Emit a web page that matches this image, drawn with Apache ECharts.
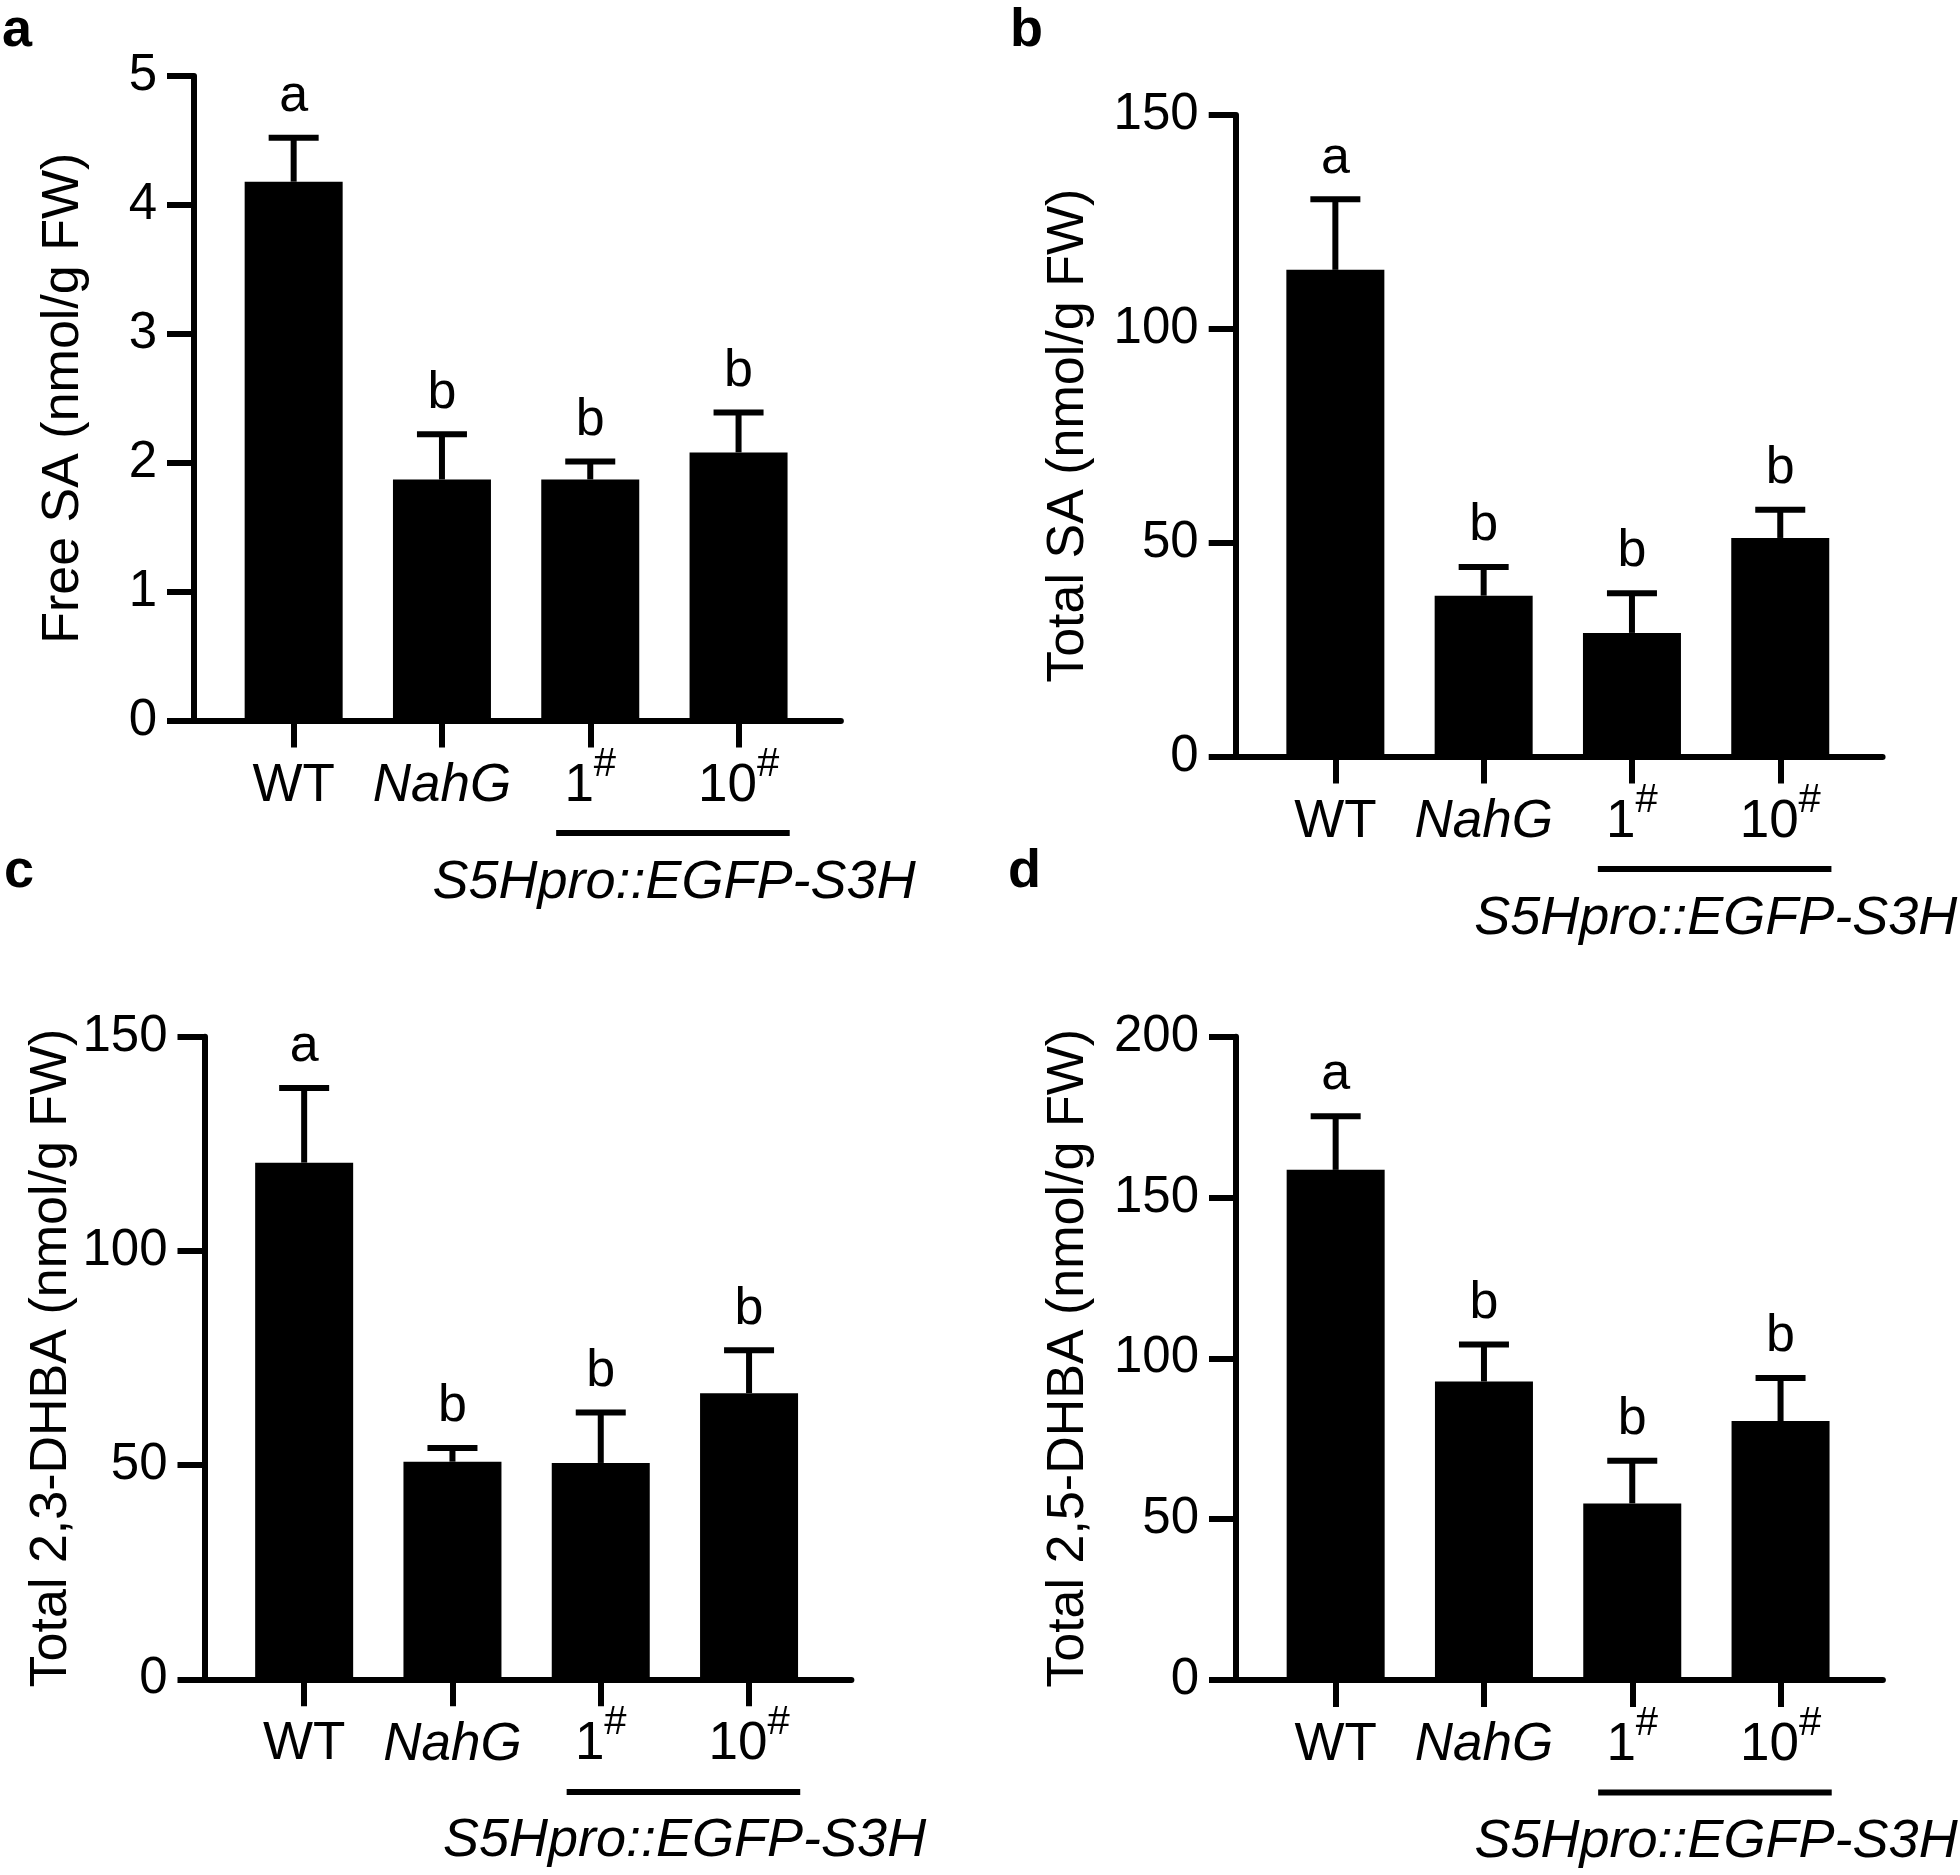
<!DOCTYPE html>
<html>
<head>
<meta charset="utf-8">
<script src="https://cdn.jsdelivr.net/npm/echarts@6/dist/echarts.min.js"></script>
<style>
html,body{margin:0;padding:0;background:#fff;}
#chart{width:1960px;height:1875px;}
</style>
</head>
<body>
<div id="chart"></div>
<script>
// ---------------- data ----------------
const categories = ['WT', 'NahG', '1#', '10#'];
const letters = ['a', 'b', 'b', 'b'];
const groupLabel = 'S5Hpro::EGFP-S3H';

const freeSA = [4.18, 1.87, 1.87, 2.08];
const freeSAErr = [0.34, 0.35, 0.14, 0.31];

const totalSA = [113.8, 37.6, 28.9, 51.1];
const totalSAErr = [16.5, 6.7, 9.3, 6.6];

const dhba23 = [120.6, 50.8, 50.5, 66.8];
const dhba23Err = [17.4, 3.2, 11.8, 10.0];

const dhba25 = [158.6, 92.8, 54.9, 80.5];
const dhba25Err = [16.7, 11.5, 13.3, 13.4];

const yTicksA = [0, 1, 2, 3, 4, 5];
const yTicksB = [0, 50, 100, 150];
const yTicksC = [0, 50, 100, 150];
const yTicksD = [0, 50, 100, 150, 200];

// ---------------- layout ----------------
const FONT = '"Liberation Sans", Arial, Helvetica, sans-serif';
const X_MIN = -0.672, X_MAX = 3.69;
const GROUP_FROM = 1.77, GROUP_TO = 3.345, GROUP_TEXT_AT = 2.565;

const panels = [
  {tag: 'a', tagX: 2, tagY: 31, title: 'Free SA (nmol/g FW)', values: freeSA, errs: freeSAErr, ticks: yTicksA,
   left: 194, top: 76, height: 644.5, nameGap: 104},
  {tag: 'b', tagX: 1010, tagY: 31, title: 'Total SA (nmol/g FW)', values: totalSA, errs: totalSAErr, ticks: yTicksB,
   left: 1235.7, top: 115, height: 641.5, nameGap: 141},
  {tag: 'c', tagX: 4, tagY: 872, title: 'Total 2,3-DHBA (nmol/g FW)', values: dhba23, errs: dhba23Err, ticks: yTicksC,
   left: 204.5, top: 1036.7, height: 642.6, nameGap: 127},
  {tag: 'd', tagX: 1008, tagY: 872, title: 'Total 2,5-DHBA (nmol/g FW)', values: dhba25, errs: dhba25Err, ticks: yTicksD,
   left: 1236, top: 1036.7, height: 643.3, nameGap: 141}
];
const PLOT_W = (X_MAX - X_MIN) * 148.3;

function catLabel(v) {
  const i = Math.round(v);
  const c = categories[i];
  if (c === undefined) return '';
  if (c === 'NahG') return '{i|' + c + '}';
  if (c.endsWith('#')) return '{n|' + c.slice(0, -1) + '}{s|#}';
  return '{n|' + c + '}';
}

function errRender(params, api) {
  const x = api.value(0), m = api.value(1), e = api.value(2);
  const base = api.coord([x, m]);
  const top = api.coord([x, m + e]);
  return {
    type: 'group',
    children: [
      {type: 'line', shape: {x1: base[0], y1: base[1], x2: top[0], y2: top[1]},
       style: {stroke: '#000', lineWidth: 6}},
      {type: 'line', shape: {x1: top[0] - 25, y1: top[1], x2: top[0] + 25, y2: top[1]},
       style: {stroke: '#000', lineWidth: 6}},
      {type: 'text', x: top[0], y: top[1] - 41,
       style: {text: letters[params.dataIndex], fill: '#000', font: '52px ' + FONT,
               align: 'center', verticalAlign: 'middle'}}
    ]
  };
}

function groupRender(params, api) {
  const p0 = api.coord([api.value(0), 0]);
  const p1 = api.coord([api.value(1), 0]);
  const pc = api.coord([api.value(2), 0]);
  return {
    type: 'group',
    children: [
      {type: 'line', shape: {x1: p0[0], y1: p0[1] + 112.6, x2: p1[0], y2: p1[1] + 112.6},
       style: {stroke: '#000', lineWidth: 6}},
      {type: 'text', x: pc[0], y: pc[1] + 162,
       style: {text: groupLabel, fill: '#000', font: 'italic 54px ' + FONT,
               align: 'center', verticalAlign: 'middle'}}
    ]
  };
}

const grid = [], xAxis = [], yAxis = [], series = [], graphic = [];
panels.forEach((p, k) => {
  grid.push({left: p.left, top: p.top, width: PLOT_W, height: p.height, containLabel: false});
  xAxis.push({
    type: 'value', gridIndex: k, min: X_MIN, max: X_MAX,
    splitLine: {show: false},
    axisLine: {show: true, onZero: false, lineStyle: {color: '#000', width: 6}},
    axisTick: {show: true, customValues: [0, 1, 2, 3], length: 27, lineStyle: {color: '#000', width: 6}},
    axisLabel: {
      show: true, customValues: [0, 1, 2, 3], margin: 24, formatter: catLabel,
      rich: {
        n: {fontSize: 53, fontFamily: FONT, color: '#000', padding: [15, 0, 0, 0], verticalAlign: 'bottom'},
        i: {fontSize: 53, fontFamily: FONT, color: '#000', fontStyle: 'italic', padding: [15, 0, 0, 0], verticalAlign: 'bottom'},
        s: {fontSize: 40, fontFamily: FONT, color: '#000', verticalAlign: 'top'}
      }
    }
  });
  const t = p.ticks;
  yAxis.push({
    type: 'value', gridIndex: k, min: t[0], max: t[t.length - 1], interval: t[1] - t[0],
    splitLine: {show: false},
    axisLine: {show: true, onZero: false, lineStyle: {color: '#000', width: 6}},
    axisTick: {show: true, length: 27, lineStyle: {color: '#000', width: 6}},
    axisLabel: {fontSize: 51, fontFamily: FONT, color: '#000', margin: 37},
    name: p.title, nameLocation: 'middle', nameGap: p.nameGap,
    nameTextStyle: {fontSize: 52, fontFamily: FONT, color: '#000'}
  });
  series.push({
    type: 'bar', xAxisIndex: k, yAxisIndex: k, barWidth: 98,
    data: p.values.map((v, i) => [i, v]),
    itemStyle: {color: '#000'}, silent: true
  });
  series.push({
    type: 'custom', xAxisIndex: k, yAxisIndex: k, renderItem: errRender, silent: true,
    data: p.values.map((v, i) => [i, v, p.errs[i]]), z: 5
  });
  series.push({
    type: 'custom', xAxisIndex: k, yAxisIndex: k, renderItem: groupRender, silent: true,
    data: [[GROUP_FROM, GROUP_TO, GROUP_TEXT_AT]], z: 5
  });
  graphic.push({
    type: 'text', x: p.tagX, y: p.tagY,
    style: {text: p.tag, fill: '#000', font: 'bold 54px ' + FONT, verticalAlign: 'middle', align: 'left'}
  });
});

const chart = echarts.init(document.getElementById('chart'), null, {renderer: 'canvas'});
chart.setOption({
  animation: false,
  backgroundColor: '#fff',
  grid, xAxis, yAxis, series, graphic
});
</script>
</body>
</html>
